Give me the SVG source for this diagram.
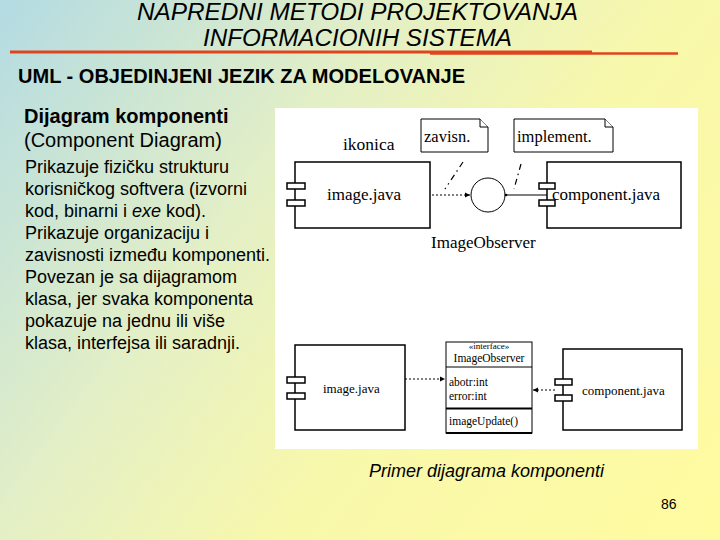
<svg xmlns="http://www.w3.org/2000/svg" width="720" height="540" viewBox="0 0 720 540">
  <defs>
    <linearGradient id="bg" x1="0" y1="0" x2="720" y2="540" gradientUnits="userSpaceOnUse">
      <stop offset="0" stop-color="#b3dbe3"/>
      <stop offset="0.35" stop-color="#e3efc6"/>
      <stop offset="0.6" stop-color="#f8f8ac"/>
      <stop offset="1" stop-color="#fffba0"/>
    </linearGradient>
    <marker id="arrs" markerWidth="6" markerHeight="6" refX="5" refY="3" orient="auto" markerUnits="userSpaceOnUse">
      <path d="M0,0.5 L5,3 L0,5.5 Z" fill="#000"/>
    </marker>
  </defs>
  <style>
    .sans { font-family: "Liberation Sans", Arial, sans-serif; fill: #000; }
    .serif { font-family: "Liberation Serif", "Times New Roman", serif; fill: #000; }
    .box { fill: #fff; stroke: #000; stroke-width: 1.5; }
    .port { fill: #fff; stroke: #000; stroke-width: 1.5; }
    .note { fill: #fff; stroke: #000; stroke-width: 1; }
    .dot { fill: none; stroke: #000; stroke-width: 1.2; stroke-dasharray: 2 2; }
    .dash { fill: none; stroke: #000; stroke-width: 1.2; stroke-dasharray: 6 4 1.5 4; }
    .solid { fill: none; stroke: #000; stroke-width: 1.2; }
  </style>

  <rect x="0" y="0" width="720" height="540" fill="url(#bg)"/>

  <!-- Title -->
  <g id="title">
    <text class="sans" x="357.5" y="20" font-size="23" font-style="italic" text-anchor="middle" textLength="441" lengthAdjust="spacingAndGlyphs">NAPREDNI METODI PROJEKTOVANJA</text>
    <text class="sans" x="357.5" y="46" font-size="23" font-style="italic" text-anchor="middle" textLength="309" lengthAdjust="spacingAndGlyphs">INFORMACIONIH SISTEMA</text>
    <line x1="10" y1="52" x2="592" y2="52" stroke="#e0441f" stroke-width="3"/>
    <line x1="430" y1="53.5" x2="678" y2="53.5" stroke="#e0441f" stroke-width="2.5"/>
  </g>

  <text class="sans" x="18" y="83" font-size="20" font-weight="bold" textLength="447" lengthAdjust="spacingAndGlyphs">UML - OBJEDINJENI JEZIK ZA MODELOVANJE</text>

  <!-- Left text -->
  <g id="body-text" class="sans">
    <text x="24" y="123" font-size="20" font-weight="bold">Dijagram komponenti</text>
    <text x="24" y="147" font-size="20">(Component Diagram)</text>
    <text x="25" y="173" font-size="18">Prikazuje fizičku strukturu</text>
    <text x="25" y="195" font-size="18">korisničkog softvera (izvorni</text>
    <text x="25" y="217" font-size="18">kod, binarni i <tspan font-style="italic">exe</tspan> kod).</text>
    <text x="25" y="239" font-size="18">Prikazuje organizaciju i</text>
    <text x="25" y="261" font-size="18">zavisnosti između komponenti.</text>
    <text x="25" y="283" font-size="18">Povezan je sa dijagramom</text>
    <text x="25" y="305" font-size="18">klasa, jer svaka komponenta</text>
    <text x="25" y="327" font-size="18">pokazuje na jednu ili više</text>
    <text x="25" y="349" font-size="18">klasa, interfejsa ili saradnji.</text>
  </g>

  <!-- White panel -->
  <rect x="275" y="108" width="423" height="341" fill="#ffffff"/>

  <!-- Upper diagram -->
  <text class="serif" x="343" y="150" font-size="17.5">ikonica</text>

  <g id="note-zavisn">
    <path class="note" d="M421,119 L480,119 L488,127 L488,152 L421,152 Z"/>
    <path class="note" d="M480,119 L480,127 L488,127"/>
    <text class="serif" x="424" y="142" font-size="16.5">zavisn.</text>
  </g>
  <g id="note-implement">
    <path class="note" d="M514,119 L605,119 L613,127 L613,152 L514,152 Z"/>
    <path class="note" d="M605,119 L605,127 L613,127"/>
    <text class="serif" x="517" y="142" font-size="16.5">implement.</text>
  </g>

  <g id="comp-image-top">
    <rect class="box" x="295" y="162" width="135" height="66"/>
    <rect class="port" x="287" y="183" width="18" height="6"/>
    <rect class="port" x="287" y="200" width="18" height="6"/>
    <text class="serif" x="327" y="200" font-size="17">image.java</text>
  </g>

  <g id="iface-circle">
    <circle cx="488" cy="195" r="17" fill="#fff" stroke="#000" stroke-width="1"/>
    <text class="serif" x="431" y="248" font-size="17">ImageObserver</text>
  </g>

  <g id="comp-component-top">
    <rect class="box" x="547" y="162" width="134" height="66"/>
    <rect class="port" x="539" y="183" width="16" height="6"/>
    <rect class="port" x="539" y="200" width="16" height="6"/>
    <text class="serif" x="552" y="200" font-size="17">component.java</text>
  </g>

  <!-- Lower diagram -->
  <g id="comp-image-bottom">
    <rect class="box" x="295" y="345" width="110" height="85"/>
    <rect class="port" x="287" y="377" width="18" height="6"/>
    <rect class="port" x="287" y="393" width="18" height="6"/>
    <text class="serif" x="323" y="393" font-size="13">image.java</text>
  </g>

  <g id="class-imageobserver">
    <rect x="446" y="342" width="86" height="91" fill="#fff" stroke="#000" stroke-width="1"/>
    <line x1="446" y1="367" x2="532" y2="367" stroke="#000" stroke-width="1"/>
    <line x1="446" y1="408.5" x2="532" y2="408.5" stroke="#000" stroke-width="2"/>
    <line x1="446" y1="433" x2="532" y2="433" stroke="#000" stroke-width="2"/>
    <text class="serif" x="489" y="349" font-size="9" text-anchor="middle">«interface»</text>
    <text class="serif" x="489" y="362" font-size="11.5" text-anchor="middle">ImageObserver</text>
    <text class="serif" x="449" y="386" font-size="11.5">abotr:int</text>
    <text class="serif" x="449" y="400" font-size="11.5">error:int</text>
    <text class="serif" x="449" y="425" font-size="11.5">imageUpdate()</text>
  </g>

  <g id="comp-component-bottom">
    <rect class="box" x="563" y="349" width="119" height="81"/>
    <rect class="port" x="555" y="379" width="17" height="6"/>
    <rect class="port" x="555" y="395" width="17" height="6"/>
    <text class="serif" x="582" y="395" font-size="13">component.java</text>
  </g>

  <!-- Connectors -->
  <g id="connectors">
    <line class="dot" x1="432" y1="195" x2="470" y2="195" marker-end="url(#arrs)"/>
    <line class="solid" x1="505" y1="195" x2="547" y2="195"/>
    <circle cx="506" cy="195" r="1.3" fill="#000"/>
    <line class="dash" x1="463" y1="162" x2="445" y2="189"/>
    <line class="dash" x1="521" y1="164" x2="514" y2="189"/>
    <line class="dot" x1="405" y1="379" x2="445" y2="379" marker-end="url(#arrs)"/>
    <line class="dot" x1="555" y1="390" x2="533" y2="390" marker-end="url(#arrs)"/>
  </g>

  <text class="sans" x="369" y="477" font-size="18" font-style="italic">Primer dijagrama komponenti</text>
  <text class="sans" x="661" y="509" font-size="14">86</text>
</svg>
